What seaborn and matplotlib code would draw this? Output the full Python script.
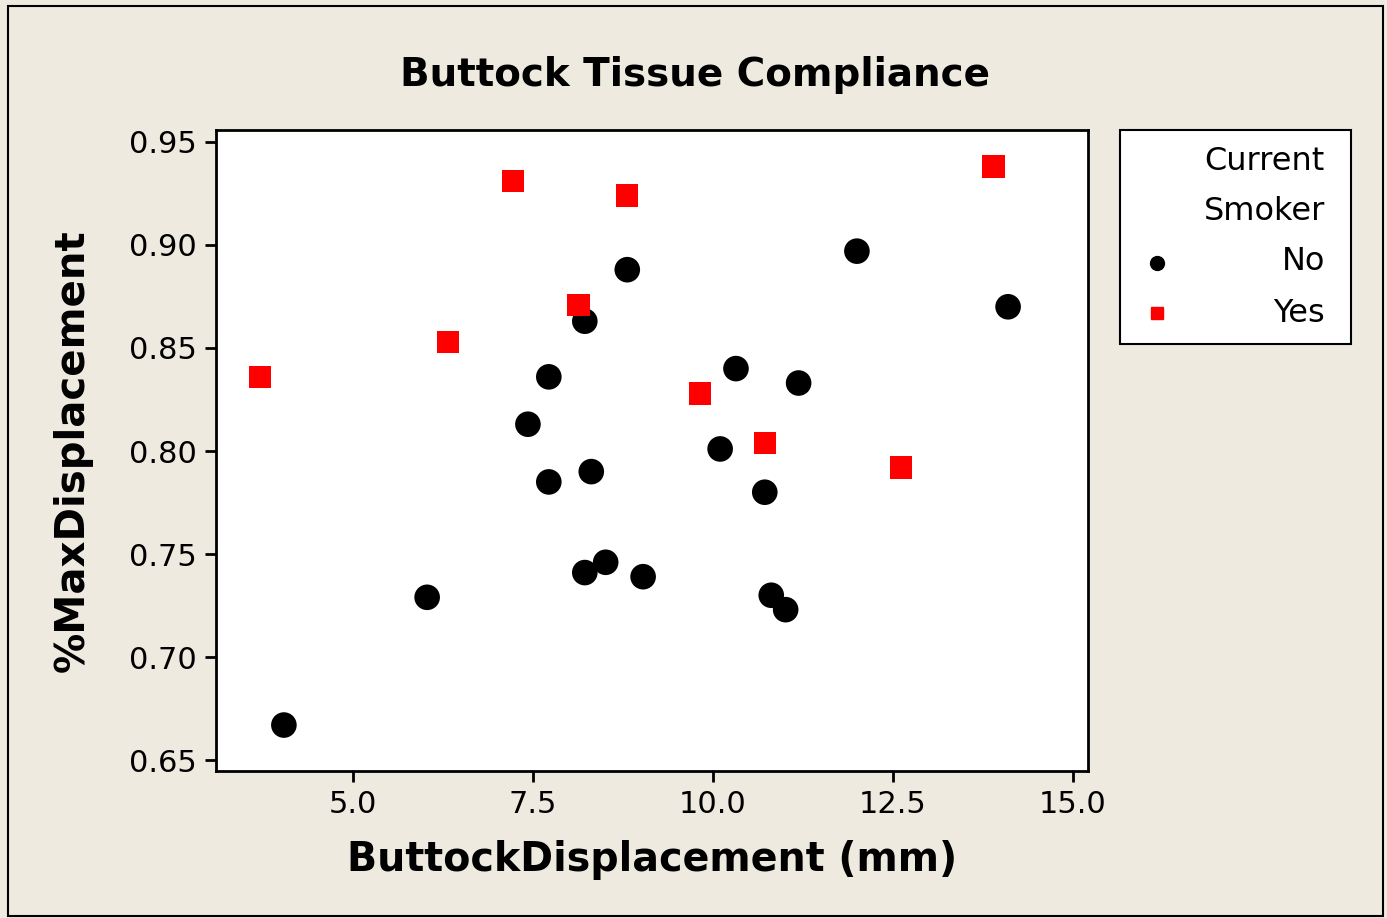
import matplotlib
matplotlib.use("Agg")
import matplotlib.pyplot as plt
import seaborn as sns
import pandas as pd
from matplotlib.patches import Rectangle
from matplotlib.lines import Line2D

# Data
no_x = [4.04, 6.03, 7.43, 7.72, 7.72, 8.22, 8.22, 8.31, 8.51, 8.81, 9.03,
        10.10, 10.32, 10.72, 10.81, 11.01, 11.19, 12.00, 14.10]
no_y = [0.667, 0.729, 0.813, 0.836, 0.785, 0.863, 0.741, 0.790, 0.746, 0.888, 0.739,
        0.801, 0.840, 0.780, 0.730, 0.723, 0.833, 0.897, 0.870]
yes_x = [3.71, 6.32, 7.22, 8.13, 8.81, 9.82, 10.72, 12.61, 13.90]
yes_y = [0.836, 0.853, 0.931, 0.871, 0.924, 0.828, 0.804, 0.792, 0.938]
groups = ["No", "Yes"]
x_ticks = [5.0, 7.5, 10.0, 12.5, 15.0]
y_ticks = [0.65, 0.70, 0.75, 0.80, 0.85, 0.90, 0.95]

df = pd.DataFrame({
    "ButtockDisplacement (mm)": no_x + yes_x,
    "%MaxDisplacement": no_y + yes_y,
    "Current Smoker": [groups[0]] * len(no_x) + [groups[1]] * len(yes_x),
})

sns.set_style("white")
plt.rcParams["font.family"] = ["DejaVu Sans"]
plt.rcParams["text.color"] = "black"
plt.rcParams["axes.labelcolor"] = "black"

bg = "#EEEAE0"
fig = plt.figure(figsize=(13.87, 9.18), dpi=100, facecolor=bg)
ax = fig.add_axes([216/1387, 1 - 771/918, (1088-216)/1387, (771-130)/918])
ax.set_facecolor("white")

palette = {"No": "black", "Yes": "#FF0000"}
markers = {"No": "o", "Yes": "s"}
sizes = {"No": 340, "Yes": 260}
for g in groups:
    sub = df[df["Current Smoker"] == g]
    sns.scatterplot(data=sub, x="ButtockDisplacement (mm)", y="%MaxDisplacement",
                    color=palette[g], marker=markers[g],
                    s=sizes[g], edgecolor="none", ax=ax, legend=False)

ax.set_xlim(3.097, 15.21)
ax.set_ylim(0.6447, 0.9558)
ax.set_xticks(x_ticks)
ax.set_xticklabels([f"{v:.1f}" for v in x_ticks])
ax.set_yticks(y_ticks)
ax.set_yticklabels([f"{v:.2f}" for v in y_ticks])
ax.tick_params(axis="both", direction="out", length=8, width=2, colors="black",
               labelsize=22, bottom=True, left=True, pad=6)
for sp in ax.spines.values():
    sp.set_color("black")
    sp.set_linewidth(2)

ax.set_xlabel("ButtockDisplacement (mm)", fontsize=28.5, fontweight="bold", labelpad=15)
ax.set_ylabel("%MaxDisplacement", fontsize=29, fontweight="bold", labelpad=26)
fig.text(695/1387, 1 - 75/918, "Buttock Tissue Compliance", ha="center", va="center",
         fontsize=28, fontweight="bold")

# Legend box (manual, right-aligned text like Minitab)
lx0, lx1, ly0, ly1 = 1120/1387, 1351/1387, 1 - 344/918, 1 - 130/918
fig.add_artist(Rectangle((lx0, ly0), lx1 - lx0, ly1 - ly0, transform=fig.transFigure,
                         facecolor="white", edgecolor="black", linewidth=1.5))
tx = 1325/1387
for yy, txt in [(162, "Current"), (212, "Smoker"), (262, "No"), (313, "Yes")]:
    fig.text(tx, 1 - yy/918, txt, ha="right", va="center", fontsize=23)
fig.add_artist(Line2D([1157/1387], [1 - 263/918], transform=fig.transFigure, marker="o",
                      color="black", markersize=10, linestyle="none"))
fig.add_artist(Line2D([1157/1387], [1 - 313/918], transform=fig.transFigure, marker="s",
                      color="#FF0000", markersize=9, linestyle="none"))

# Outer frame
fig.add_artist(Rectangle((8/1387, 2/918), (1383-8)/1387, (910)/918, transform=fig.transFigure,
                         facecolor="none", edgecolor="black", linewidth=1.5))

fig.savefig("out.png", dpi=100, facecolor=bg)
